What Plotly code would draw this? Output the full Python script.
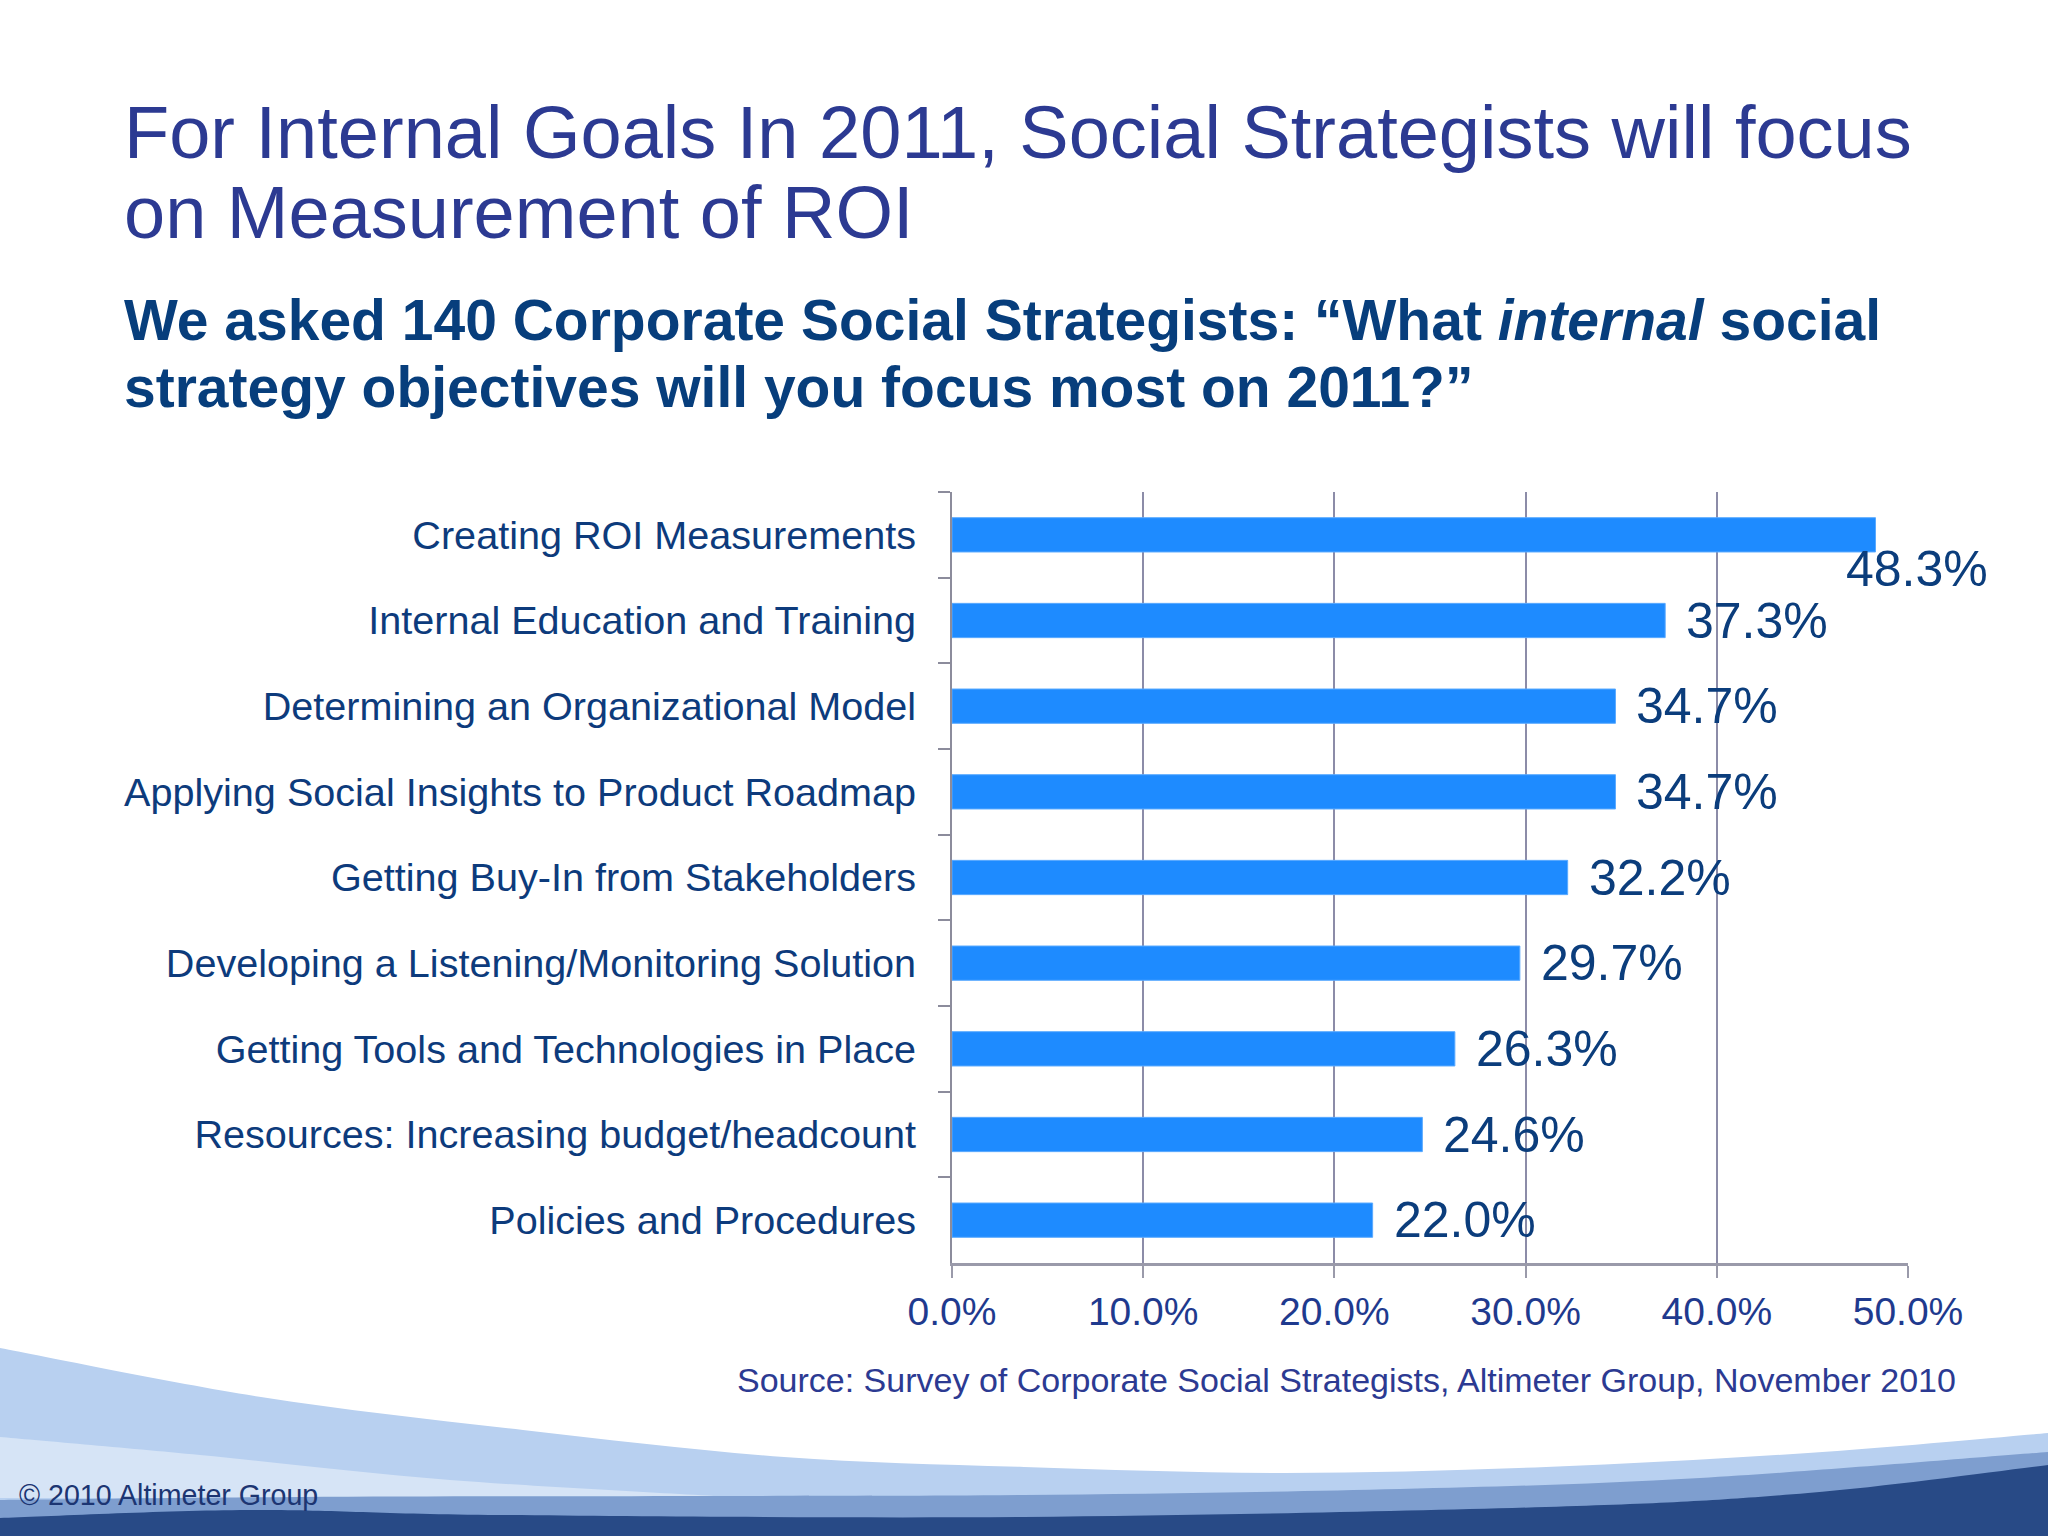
import plotly.graph_objects as go

categories = [
    "Creating ROI Measurements",
    "Internal Education and Training",
    "Determining an Organizational Model",
    "Applying Social Insights to Product Roadmap",
    "Getting Buy-In from Stakeholders",
    "Developing a Listening/Monitoring Solution",
    "Getting Tools and Technologies in Place",
    "Resources: Increasing budget/headcount",
    "Policies and Procedures",
]
values = [48.3, 37.3, 34.7, 34.7, 32.2, 29.7, 26.3, 24.6, 22.0]
x_ticks = [0, 10, 20, 30, 40, 50]
x_tick_labels = ["0.0%", "10.0%", "20.0%", "30.0%", "40.0%", "50.0%"]

title_lines = ["For Internal Goals In 2011, Social Strategists will focus",
               "on Measurement of ROI"]
subtitle_lines = ["We asked 140 Corporate Social Strategists: \u201cWhat <i>internal</i> social",
                  "strategy objectives will you focus most on 2011?\u201d"]
source_text = "Source: Survey of Corporate Social Strategists, Altimeter Group, November 2010"
copyright_text = "\u00a9 2010 Altimeter Group"

W, H = 2048, 1536
PL, PR, PT, PB = 952, 1908, 492, 1263
FONT = "Arial, 'Liberation Sans', sans-serif"


def fx(px):
    return (px - PL) / (PR - PL)


def fy(py):
    return (PB - py) / (PB - PT)


def smooth_path(pts, close_pts):
    P = [(fx(a), fy(b)) for a, b in pts]
    d = "M %.5f,%.5f" % P[0]
    for i in range(len(P) - 1):
        p0 = P[i - 1] if i > 0 else P[i]
        p1 = P[i]
        p2 = P[i + 1]
        p3 = P[i + 2] if i + 2 < len(P) else P[i + 1]
        c1 = (p1[0] + (p2[0] - p0[0]) / 6, p1[1] + (p2[1] - p0[1]) / 6)
        c2 = (p2[0] - (p3[0] - p1[0]) / 6, p2[1] - (p3[1] - p1[1]) / 6)
        d += " C %.5f,%.5f %.5f,%.5f %.5f,%.5f" % (c1[0], c1[1], c2[0], c2[1], p2[0], p2[1])
    for a, b in close_pts:
        d += " L %.5f,%.5f" % (fx(a), fy(b))
    return d + " Z"


fig = go.Figure()
fig.add_trace(go.Bar(
    x=values, y=categories, orientation="h",
    marker=dict(color="#1E8BFF", line=dict(color="#5AAAFF", width=1)),
    hoverinfo="skip",
))

annotations = []
for i, (c, v) in enumerate(zip(categories, values)):
    if i == 0:
        xs, ys = -32, -34
    else:
        xs, ys = 19, 0
    annotations.append(dict(
        x=v, y=c, xref="x", yref="y", text=f"{v:.1f}%", showarrow=False,
        xanchor="left", yanchor="middle", xshift=xs, yshift=ys,
        font=dict(family=FONT, size=50, color="#0B3D7C"),
    ))

title_color = "#2C3A92"
sub_color = "#073E7C"
for txt, py in zip(title_lines, [132, 213]):
    annotations.append(dict(x=fx(122), y=fy(py), xref="paper", yref="paper", text=txt,
                            showarrow=False, xanchor="left", yanchor="middle",
                            font=dict(family=FONT, size=74, color=title_color)))
for txt, py in zip(subtitle_lines, [320, 387]):
    annotations.append(dict(x=fx(122), y=fy(py), xref="paper", yref="paper", text="<b>" + txt + "</b>",
                            showarrow=False, xanchor="left", yanchor="middle",
                            font=dict(family=FONT, size=57, color=sub_color)))
annotations.append(dict(x=fx(1958), y=fy(1380), xref="paper", yref="paper", text=source_text,
                        showarrow=False, xanchor="right", yanchor="middle",
                        font=dict(family=FONT, size=34, color="#2C3A92")))
annotations.append(dict(x=fx(17), y=fy(1495), xref="paper", yref="paper", text=copyright_text,
                        showarrow=False, xanchor="left", yanchor="middle",
                        font=dict(family=FONT, size=28.6, color="#1C3572")))

shapes = [
    dict(type="path", xref="paper", yref="paper", layer="below", line=dict(width=0),
         fillcolor="#B8D0F0",
         path=smooth_path([(0, 1348), (261, 1397), (523, 1430), (784, 1457), (1024, 1467),
                           (1285, 1473), (1546, 1467), (1808, 1453), (2048, 1433)],
                          [(2048, 1536), (0, 1536)])),
    dict(type="path", xref="paper", yref="paper", layer="below", line=dict(width=0),
         fillcolor="#D6E4F6",
         path=smooth_path([(0, 1437), (200, 1455), (450, 1480), (750, 1498)],
                          [(0, 1498)])),
    dict(type="path", xref="paper", yref="paper", layer="below", line=dict(width=0),
         fillcolor="#7E9ECF",
         path=smooth_path([(0, 1500), (300, 1497), (700, 1496), (1024, 1495), (1400, 1489),
                           (1700, 1478), (2048, 1452)],
                          [(2048, 1536), (0, 1536)])),
    dict(type="path", xref="paper", yref="paper", layer="below", line=dict(width=0),
         fillcolor="#284A86",
         path=smooth_path([(0, 1518), (248, 1510), (500, 1515), (1024, 1517), (1546, 1507),
                           (1808, 1493), (2048, 1465)],
                          [(2048, 1536), (0, 1536)])),
]

fig.update_layout(
    width=W, height=H,
    margin=dict(l=PL, r=W - PR, t=PT, b=H - PB, pad=0),
    paper_bgcolor="white", plot_bgcolor="white",
    showlegend=False, bargap=0.6,
    annotations=annotations, shapes=shapes,
    font=dict(family=FONT),
)
fig.update_xaxes(
    range=[0, 50], tickvals=x_ticks, ticktext=x_tick_labels,
    showgrid=True, gridcolor="#8C8CA8", gridwidth=2,
    showline=True, linecolor="#9A9AAA", linewidth=3,
    ticks="outside", ticklen=12, tickcolor="#9A9AAA", tickwidth=2,
    tickfont=dict(family=FONT, size=39, color="#1F3A8E"),
    ticklabelstandoff=0, zeroline=False, fixedrange=True,
)
fig.update_yaxes(
    categoryorder="array", categoryarray=categories,
    range=[len(categories) - 0.5, -0.5], autorange=False,
    showline=True, linecolor="#8C8C9C", linewidth=2,
    ticks="outside", ticklen=12, tickcolor="#8C8C9C", tickwidth=2, tickson="boundaries",
    tickfont=dict(family=FONT, size=39.6, color="#0D3B7C"),
    ticklabelstandoff=26, showgrid=False, fixedrange=True,
)

fig.write_html("out.html", config={"displayModeBar": False},
               post_script="document.body.style.margin='0';")
